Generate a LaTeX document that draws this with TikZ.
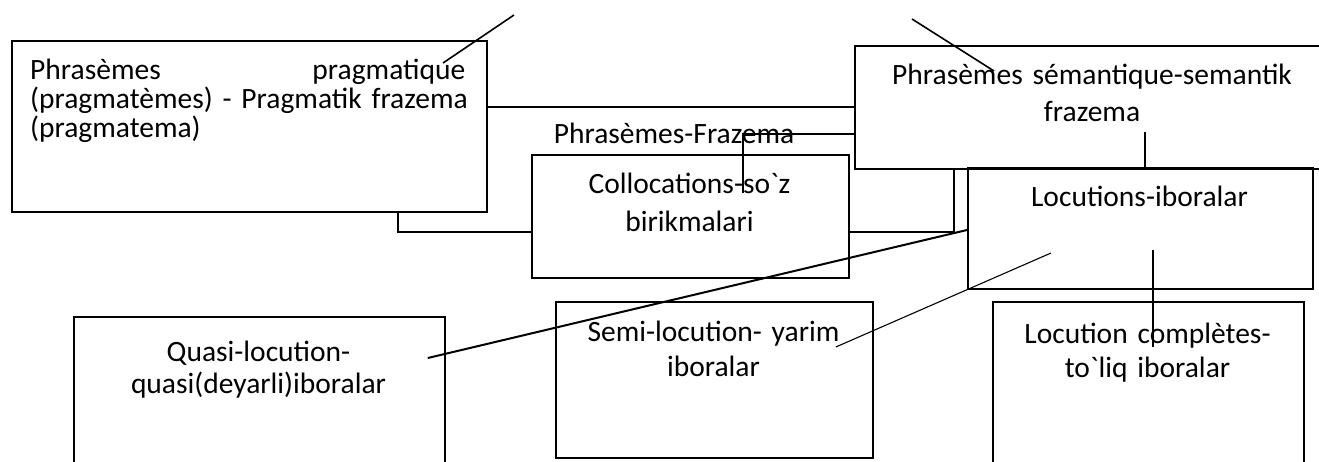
\documentclass[tikz,border=0pt]{standalone}
\usepackage{fontspec}
\newfontfamily\calib{Carlito}
\usetikzlibrary{calc}

\tikzset{
    box/.style={draw, line width=1.8pt, inner sep=0pt, anchor=north west},
    lbl/.style={font=\calib\fontsize{29.5}{#1}\selectfont, inner sep=0pt, anchor=base,
        text width=480pt, align=center},
    lbl/.default=36,
    wire/.style={line width=1.6pt},
    fine/.style={line width=1.1pt}
}

\begin{document}
\begin{tikzpicture}[x=1pt, y=-1pt]

            \useasboundingbox (0,0) rectangle (1319,461);
            \clip (0,0) rectangle (1319,461);

            % boxes
            \node[box, minimum width=475pt, minimum height=171pt] (prag) at (11,40) {};
            \node[box, minimum width=476pt, minimum height=123pt] (sem) at (854,45) {};
            \node[box, minimum width=317pt, minimum height=123pt] (coll) at (531,154) {};
            \node[box, minimum width=345pt, minimum height=121pt] (loc) at (967,167) {};
            \node[box, minimum width=371pt, minimum height=160pt] (quasi) at (73,316) {};
            \node[box, minimum width=317pt, minimum height=156pt] (semi) at (555,301) {};
            \node[box, minimum width=311pt, minimum height=170pt] (comp) at (992,301) {};

            % texts
            \node[lbl=29, anchor=base west, text width=435pt, align=left] (prag-t) at (30,79)
                {Phrasèmes\hfill pragmatique\\\mbox{(pragmatèmes) - Pragmatik frazema}\\(pragmatema)};
            \node[lbl=37.5] (sem-t) at (1092,84) {Phrasèmes sémantique-semantik\\frazema};
            \node[lbl] (root) at (674,143) {Phrasèmes-Frazema};
            \node[lbl=38] (coll-t) at (689.5,193) {Collocations-so`z\\birikmalari};
            \node[lbl] (loc-t) at (1139.5,206) {Locutions-iboralar};
            \node[lbl=32] (quasi-t) at (258.5,361) {Quasi-locution-\\quasi(deyarli)iboralar};
            \node[lbl=35] (semi-t) at (713.5,341) {Semi-locution- yarim\\iboralar};
            \node[lbl=34] (comp-t) at (1147.5,343) {Locution complètes-\\to`liq iboralar};

            % connectors
            \coordinate (l1a) at (514,15); \coordinate (l1b) at (443,63);
            \coordinate (l2a) at (912,19); \coordinate (l2b) at (994,71);
            \draw[wire] (l1a) -- (l1b);
            \draw[wire] (l2a) -- (l2b);
            \draw[wire] ($(prag.north east)+(0,67)$) -- ($(sem.north west)+(0,62)$);
            \draw[fine] ($(sem.north west)+(0,89)$) -| ($(coll.north west)+(212,39)$);
            \draw[wire] ($(prag.south west)+(387,0)$) |- ($(coll.north west)+(0,78)$);
            \draw[wire] ($(coll.north east)+(0,78)$) -| ($(sem.south west)+(100,0)$);
            \draw[fine] ($(sem.south west)+(291,-38)$) -- ($(sem.south west)+(291,0)$);
            \draw[line width=2pt] ($(loc.north west)+(0,63)$) -- ($(quasi.north east)+(-18,42)$);
            \draw[fine] ($(loc.north west)+(84,86)$) -- ($(semi.north east)+(-38,46)$);
            \draw[fine] ($(loc.north west)+(186,83)$) -- ($(comp.north west)+(161,46)$);

\end{tikzpicture}
\end{document}
